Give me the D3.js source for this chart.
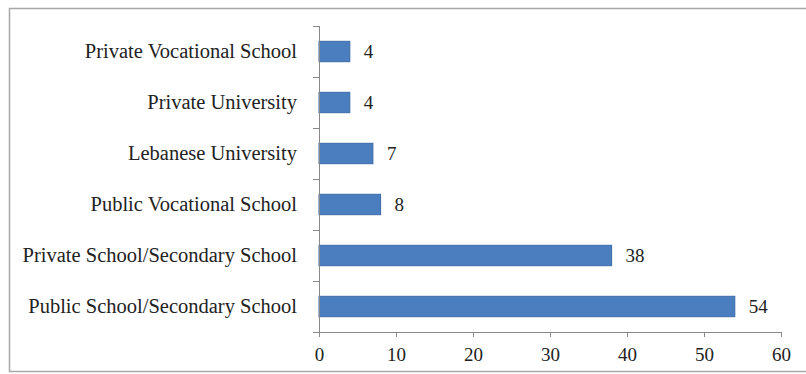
<!DOCTYPE html>
<html>
<head>
<meta charset="utf-8">
<script src="https://cdn.jsdelivr.net/npm/d3@7"></script>
<style>
  body { margin: 0; background: #fff; }
  text { font-family: "Liberation Serif", "Times New Roman", serif; fill: #222; }
</style>
</head>
<body>
<div id="chart"></div>
<script>
const categorias = [
  "Private Vocational School",
  "Private University",
  "Lebanese University",
  "Public Vocational School",
  "Private School/Secondary School",
  "Public School/Secondary School"
];
const valores = [4, 4, 7, 8, 38, 54];
const ticksX = [0, 10, 20, 30, 40, 50, 60];

const width = 806, height = 374;
const margen = { left: 319, right: 25, top: 26, bottom: 42 };

const svg = d3.select("#chart").append("svg")
  .attr("width", width)
  .attr("height", height);

// marco del gráfico
svg.append("rect")
  .attr("x", 9.5).attr("y", 8.5)
  .attr("width", 820).attr("height", 363)
  .attr("fill", "none")
  .attr("stroke", "#a8a8a8")
  .attr("stroke-width", 1.5);

const x = d3.scaleLinear()
  .domain([0, 60])
  .range([margen.left, width - margen.right]);

const y = d3.scaleBand()
  .domain(categorias)
  .range([margen.top, height - margen.bottom])
  .paddingInner(0.6)
  .paddingOuter(0.3);

const banda = d3.scaleBand()
  .domain(categorias)
  .range([margen.top, height - margen.bottom]);

const datos = categorias.map((c, i) => ({ cat: c, v: valores[i] }));

svg.selectAll("rect.barra")
  .data(datos)
  .join("rect")
  .attr("class", "barra")
  .attr("x", x(0))
  .attr("y", d => y(d.cat))
  .attr("width", d => x(d.v) - x(0))
  .attr("height", y.bandwidth())
  .attr("fill", "#4a7ebf")
  .attr("stroke", "#3b6aa8")
  .attr("stroke-width", 1);

svg.selectAll("text.valor")
  .data(datos)
  .join("text")
  .attr("class", "valor")
  .attr("x", d => x(d.v) + 14)
  .attr("y", d => y(d.cat) + y.bandwidth() / 2)
  .attr("dy", "0.35em")
  .style("font-size", "19px")
  .text(d => d.v);

// eje Y
const ejeY = svg.append("g");
ejeY.append("line")
  .attr("x1", x(0) + 0.5).attr("x2", x(0) + 0.5)
  .attr("y1", banda.range()[0]).attr("y2", banda.range()[1])
  .attr("stroke", "#888");
const bordesY = categorias.map(c => banda(c)).concat([banda.range()[1]]);
ejeY.selectAll("line.tick")
  .data(bordesY)
  .join("line")
  .attr("class", "tick")
  .attr("x1", x(0) - 6).attr("x2", x(0))
  .attr("y1", d => Math.round(d) + 0.5).attr("y2", d => Math.round(d) + 0.5)
  .attr("stroke", "#888");
ejeY.selectAll("text")
  .data(categorias)
  .join("text")
  .attr("x", x(0) - 22)
  .attr("y", d => banda(d) + banda.bandwidth() / 2)
  .attr("dy", "0.33em")
  .attr("text-anchor", "end")
  .style("font-size", "20.5px")
  .text(d => d);

// eje X
const ejeX = svg.append("g")
  .attr("transform", `translate(0,${height - margen.bottom})`)
  .call(d3.axisBottom(x).tickValues(ticksX).tickSize(5).tickSizeOuter(0).tickPadding(11));
ejeX.select(".domain").attr("stroke", "#888");
ejeX.selectAll(".tick line").attr("stroke", "#888");
ejeX.selectAll(".tick text")
  .style("font-family", "'Liberation Serif', 'Times New Roman', serif")
  .style("font-size", "19px")
  .attr("fill", "#222");
</script>
</body>
</html>
